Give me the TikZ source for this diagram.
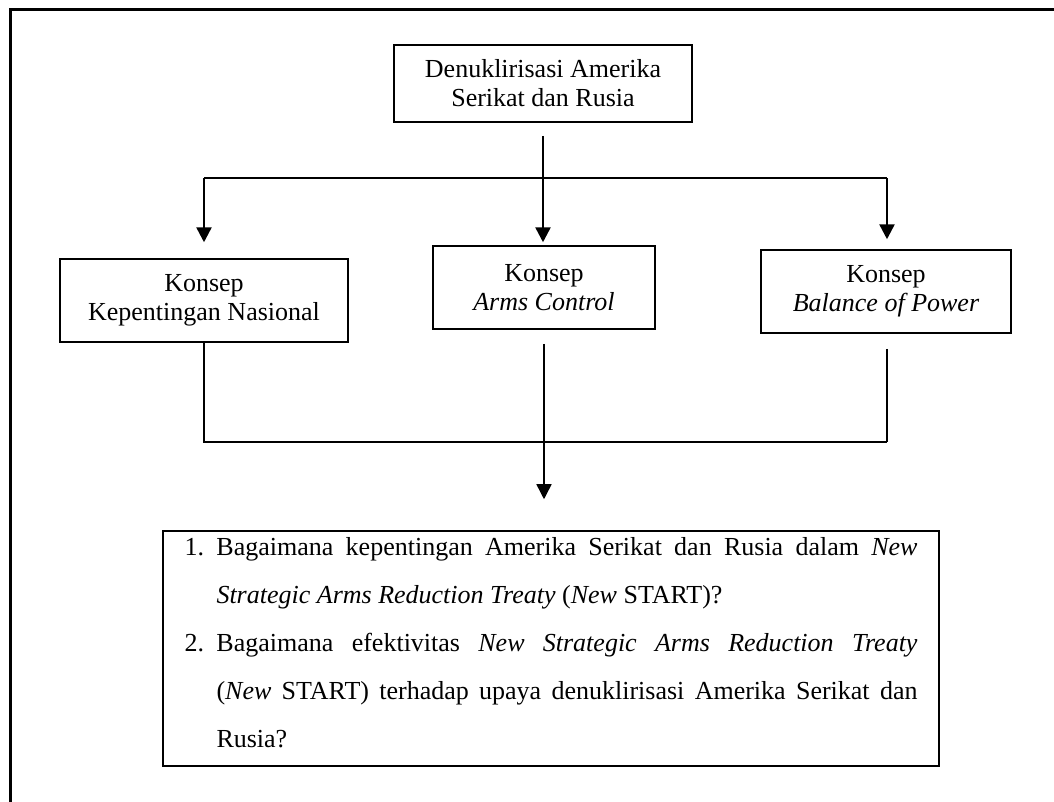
\documentclass[tikz,border=0pt]{standalone}
\usepackage{fontspec}
\setmainfont{Liberation Serif}
\usetikzlibrary{arrows.meta}
\begin{document}
\begin{tikzpicture}[x=1pt,y=-1pt,
  box/.style={draw, line width=1.5pt, inner sep=0pt, align=center, font=\fontsize{26}{29}\selectfont},
  thinline/.style={line width=1.3pt},
  arrowline/.style={line width=2.5pt, -{Triangle[length=15pt,width=15pt]}},
  lowarrow/.style={line width=1.5pt, -{Triangle[length=15pt,width=15pt]}},
  frameline/.style={line width=3pt}
]
\useasboundingbox (0,0) rectangle (1054,801);
\coordinate (fTL) at (10,9);
\coordinate (fTR) at (1060,9);
\coordinate (fBL) at (10,805);
\draw[frameline] (fBL) -- (fTL) -- (fTR);

\node[box, minimum width=298pt, minimum height=77pt] (top) at (543,83.5) {Denuklirisasi Amerika\\Serikat dan Rusia};
\node[box, minimum width=288pt, minimum height=83pt] (kn) at (204,300.5) {Konsep\\Kepentingan Nasional};
\node[box, minimum width=222pt, minimum height=83pt] (ac) at (544,287.5) {Konsep\\\textit{Arms Control}};
\node[box, minimum width=250pt, minimum height=83pt] (bp) at (886,291.5) {Konsep\\\textit{Balance of Power}};

\node[draw, line width=1.5pt, minimum width=776pt, minimum height=235pt, inner xsep=21.5pt, inner ysep=6pt,
      text width=733pt, align=justify, font=\fontsize{26}{48}\selectfont] (rq) at (551,648.5) {%
\tolerance=10000\hbadness=10000%
\hangindent=32pt\hangafter=1\noindent\makebox[32pt][l]{1.}Bagaimana kepentingan Amerika Serikat dan Rusia dalam \textit{New}\linebreak
\textit{Strategic Arms Reduction Treaty} (\textit{New} START)?\par
\hangindent=32pt\hangafter=1\noindent\makebox[32pt][l]{2.}Bagaimana efektivitas \textit{New Strategic Arms Reduction Treaty}\linebreak
(\textit{New} START) terhadap upaya denuklirisasi Amerika Serikat dan\linebreak
Rusia?\rule[-13pt]{0pt}{13pt}\par};

\coordinate (b1) at (204,178);
\coordinate (b2) at (543,178);
\coordinate (b3) at (887,178);
\draw[thinline, shorten <=13pt] (top.south) -- (b2);
\draw[thinline] (b1) -- (b3);
\draw[arrowline, shorten >=16pt] (b1) -- (b1 |- kn.north);
\draw[arrowline, shorten >=3pt] (b2) -- (b2 |- ac.north);
\draw[arrowline, shorten >=10pt] (b3) -- (b3 |- bp.north);

\coordinate (c1) at (204,442);
\coordinate (c3) at (887,442);
\draw[thinline] (kn.south -| c1) -- (c1) -- (c3);
\draw[thinline, shorten <=15pt] (bp.south -| c3) -- (c3);
\draw[lowarrow, shorten <=14pt, shorten >=31pt] (ac.south) -- (ac.south |- rq.north);
\end{tikzpicture}
\end{document}
